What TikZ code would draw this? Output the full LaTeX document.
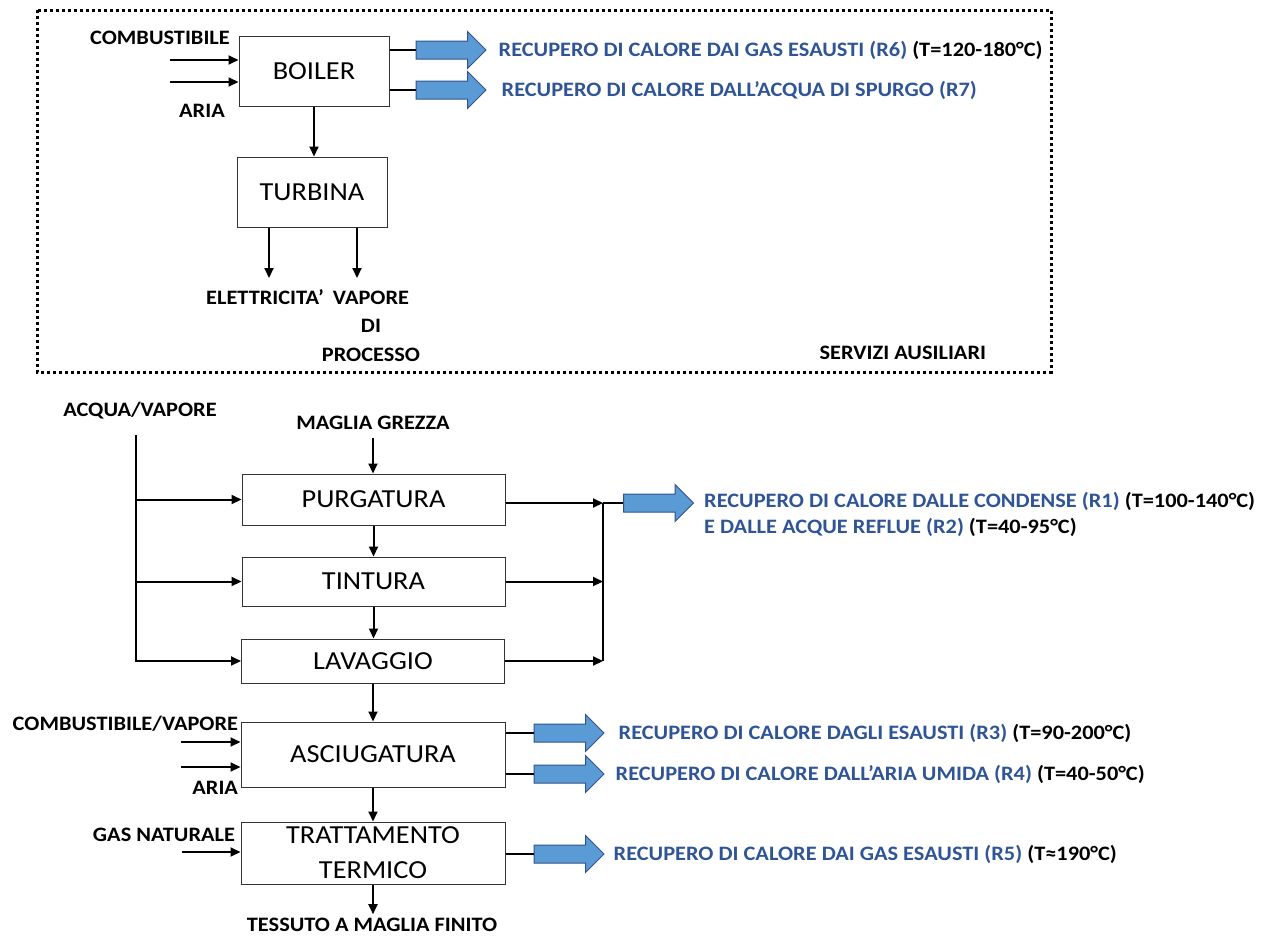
\documentclass[tikz,border=0pt]{standalone}
\usepackage{fontspec}
\setmainfont{Carlito}[FakeStretch=1.09]
\usetikzlibrary{arrows.meta, positioning, shapes.arrows, calc}
\definecolor{recblue}{RGB}{47,85,151}
\definecolor{heatfill}{RGB}{91,155,213}
\definecolor{heatline}{RGB}{49,82,140}

\begin{document}
\begin{tikzpicture}[
    x=1pt, y=-1pt,
    block/.style={rectangle, draw=black!80, line width=1pt, minimum width=263pt, align=center, inner sep=0pt, font=\fontsize{26}{35}\selectfont},
    lbl/.style={inner sep=0pt, outer sep=0pt, align=center, font=\fontsize{20.5}{28.5}\selectfont\bfseries},
    rec/.style={lbl, anchor=west, align=left, text=recblue},
    heat/.style={single arrow, draw=heatline, fill=heatfill, line width=1pt, minimum height=70pt, inner sep=8.5pt, single arrow head extend=9.5pt, anchor=tail},
    arrow/.style={-{Triangle[length=10pt,width=9pt]}, line width=2pt},
    link/.style={line width=2pt},
    frame/.style={line width=3pt, dash pattern=on 3pt off 3pt},
]
\useasboundingbox (0,0) rectangle (1271,937);

% Auxiliary services (dotted frame)
\draw[frame] (37,10) rectangle (1051,372);
\node[block, minimum width=150pt, minimum height=70pt] (boiler) at (314,71) {BOILER};
\node[block, minimum width=150pt, minimum height=70pt] (turbina) at (312,192) {TURBINA};

\node[lbl] (fuel) at (160,38) {COMBUSTIBILE};
\node[lbl] (air) at (202,111) {ARIA};
\coordinate (fuelin) at (170,60);
\coordinate (airin) at (170,82);
\draw[arrow] (fuelin) -- (fuelin -| boiler.west);
\draw[arrow] (airin) -- (airin -| boiler.west);

\node[heat] (r6arrow) at ($(boiler.east)+(26,-21)$) {};
\node[heat] (r7arrow) at ($(boiler.east)+(26,19)$) {};
\draw[link] (r6arrow.tail -| boiler.east) -- (r6arrow.tail);
\draw[link] (r7arrow.tail -| boiler.east) -- (r7arrow.tail);
\node[rec, right=12pt of r6arrow] (r6) {RECUPERO DI CALORE DAI GAS ESAUSTI (R6) \textcolor{black}{(T=120-180°C)}};
\node[rec, right=15pt of r7arrow] (r7) {RECUPERO DI CALORE DALL’ACQUA DI SPURGO (R7)};

\draw[arrow] (boiler.south) -- (boiler.south |- turbina.north);
\node[lbl] (elett) at (265,297) {ELETTRICITA’};
\node[lbl] (vapproc) at (371,326) {VAPORE\\DI\\PROCESSO};
\coordinate (elettin) at (269,278);
\coordinate (vaporin) at (357,278);
\draw[arrow] (turbina.south -| elettin) -- (elettin);
\draw[arrow] (turbina.south -| vaporin) -- (vaporin);
\node[lbl, anchor=east] (servizi) at (986,353) {SERVIZI AUSILIARI};

% Main process line
\node[block, minimum height=51pt] (purgatura) at (373.5,499.5) {PURGATURA};
\node[block, minimum height=49pt] (tintura) at (373.5,581.5) {TINTURA};
\node[block, minimum height=44pt] (lavaggio) at (373,661) {LAVAGGIO};
\node[block, minimum width=264pt, minimum height=65pt] (asciugatura) at (373,754.5) {ASCIUGATURA};
\node[block, minimum width=264pt, minimum height=62pt] (trattamento) at (373,853) {TRATTAMENTO\\TERMICO};

\node[lbl] (acqua) at (140,411) {ACQUA/VAPORE};
\node[lbl] (maglia) at (373,423) {MAGLIA GREZZA};
\coordinate (acquatop) at (136,435);
\coordinate (magliain) at (373,438);
\draw[arrow] (acquatop) |- (lavaggio.west);
\draw[arrow] (acquatop |- purgatura.west) -- (purgatura.west);
\draw[arrow] (acquatop |- tintura.west) -- (tintura.west);
\draw[arrow] (magliain) -- (magliain |- purgatura.north);
\draw[arrow] (purgatura) -- (tintura);
\draw[arrow] (tintura.south) -- (tintura.south |- lavaggio.north);
\draw[arrow] (lavaggio) -- (asciugatura);
\draw[arrow] (asciugatura) -- (trattamento);

% Collected waters
\coordinate (junction) at (603,503);
\draw[arrow] (purgatura.east |- junction) -- (junction);
\draw[arrow] (tintura.east) -- (tintura.east -| junction);
\draw[arrow] (lavaggio.east) -- (lavaggio.east -| junction);
\draw[link] (junction) -- (junction |- lavaggio.east);
\node[heat] (r12arrow) at ($(junction)+(20,0)$) {};
\draw[link] (junction) -- (r12arrow.tail);
\node[rec, right=10pt of r12arrow, yshift=-11pt, font=\fontsize{20.5}{26}\selectfont\bfseries] (r12) {RECUPERO DI CALORE DALLE CONDENSE (R1) \textcolor{black}{(T=100-140°C)}\\E DALLE ACQUE REFLUE (R2) \textcolor{black}{(T=40-95°C)}};

% Drying
\node[lbl, anchor=east] (fuelvap) at (238,724) {COMBUSTIBILE/VAPORE};
\node[lbl, anchor=east] (air2) at (238,788) {ARIA};
\coordinate (fuelvapin) at (181,742);
\coordinate (air2in) at (181,767);
\draw[arrow] (fuelvapin) -- (fuelvapin -| asciugatura.west);
\draw[arrow] (air2in) -- (air2in -| asciugatura.west);
\node[heat] (r3arrow) at ($(asciugatura.east)+(28,-21.5)$) {};
\node[heat] (r4arrow) at ($(asciugatura.east)+(28,19.5)$) {};
\draw[link] (r3arrow.tail -| asciugatura.east) -- (r3arrow.tail);
\draw[link] (r4arrow.tail -| asciugatura.east) -- (r4arrow.tail);
\node[rec, right=14pt of r3arrow] (r3) {RECUPERO DI CALORE DAGLI ESAUSTI (R3) \textcolor{black}{(T=90-200°C)}};
\node[rec, right=11pt of r4arrow] (r4) {RECUPERO DI CALORE DALL’ARIA UMIDA (R4) \textcolor{black}{(T=40-50°C)}};

% Heat treatment
\node[lbl, anchor=east] (gas) at (235,835) {GAS NATURALE};
\coordinate (gasin) at (182,852);
\draw[arrow] (gasin) -- (gasin -| trattamento.west);
\node[heat] (r5arrow) at ($(trattamento.east)+(28,1)$) {};
\draw[link] (r5arrow.tail -| trattamento.east) -- (r5arrow.tail);
\node[rec, right=9pt of r5arrow] (r5) {RECUPERO DI CALORE DAI GAS ESAUSTI (R5) \textcolor{black}{(T≈190°C)}};

\node[lbl] (tessuto) at (372,925) {TESSUTO A MAGLIA FINITO};
\draw[arrow, shorten >=4pt] (trattamento.south) -- (trattamento.south |- tessuto.north);

\end{tikzpicture}
\end{document}
